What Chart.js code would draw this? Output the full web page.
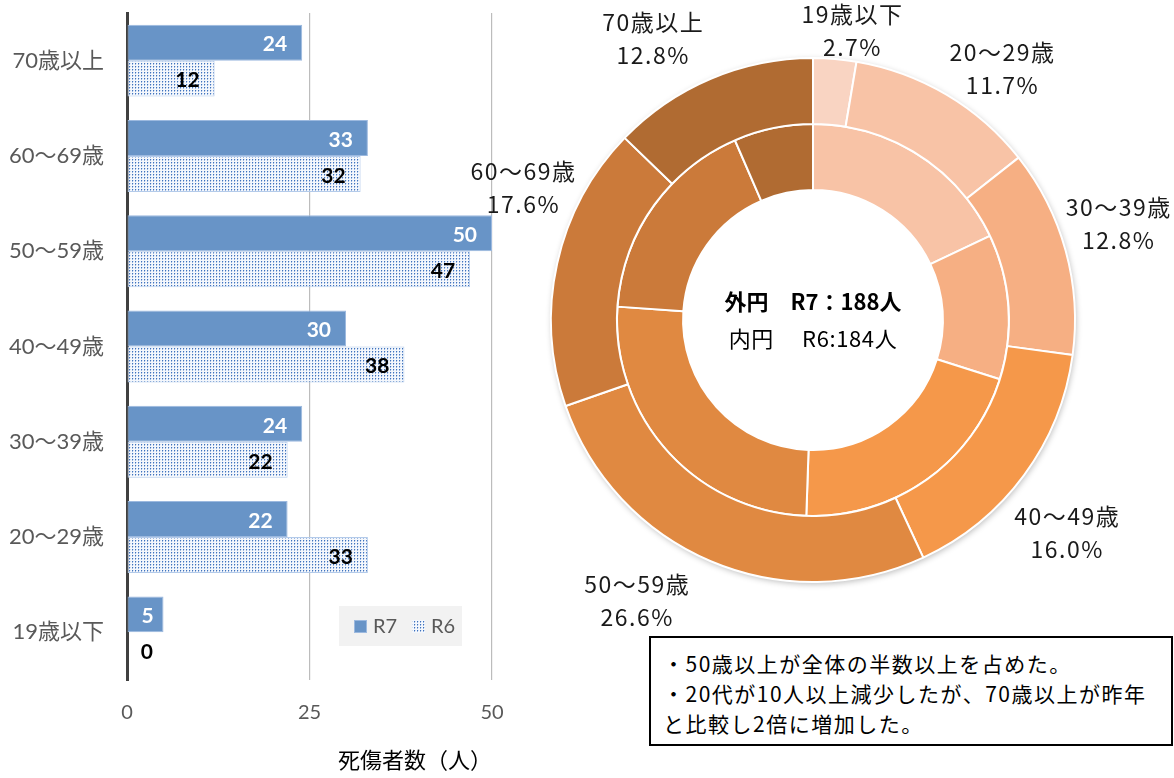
<!DOCTYPE html>
<html><head><meta charset="utf-8">
<script src="https://cdn.jsdelivr.net/npm/chart.js@4"></script>
<style>
html,body{margin:0;padding:0;background:#fff;width:1174px;height:778px;overflow:hidden;}
#barWrap{position:absolute;left:0;top:0;width:540px;height:778px;}
#pieWrap{position:absolute;left:0;top:0;width:1174px;height:778px;}
#note{position:absolute;left:649px;top:636px;width:524px;height:110px;box-sizing:border-box;border:2px solid #000;font-family:'Noto Sans CJK JP';font-size:21px;letter-spacing:1.5px;line-height:30px;padding:10px 0 0 12px;color:#000;background:#fff;}
</style></head>
<body>
<div id="barWrap"><canvas id="bar"></canvas></div>
<div id="pieWrap"><canvas id="pie"></canvas></div>
<div id="note">・50歳以上が全体の半数以上を占めた。<br>・20代が10人以上減少したが、70歳以上が昨年<br>と比較し2倍に増加した。</div>
<script>
// ---- data ----
const ageGroups = ['19歳以下','20～29歳','30～39歳','40～49歳','50～59歳','60～69歳','70歳以上'];
const r7Values = [5,22,24,30,50,33,24];
const r6Values = [0,33,22,38,47,32,12];
const seriesNames = ['R7','R6'];
const xTicks = [0,25,50];
const xAxisTitle = '死傷者数（人）';
const outerRingName = '外円';
const innerRingName = '内円';

// ---- styles ----
const segmentColors = ['#F9D4C2','#F8C3A6','#F6AF83','#F5984A','#E08941','#CB7A3A','#B06B32'];
const r7Color = '#6894C7';
const CJK = "'Noto Sans CJK JP'";
const LAT = "Lato, 'Noto Sans CJK JP'";
// label nudges (px) for donut labels relative to arc mid-angle anchor
const labelNudge = [[13,26],[28,21],[0,-13],[-1,24],[-52,-12],[20,-64],[-36,10]];

function makeDots(){
  const c=document.createElement('canvas'); c.width=3; c.height=3;
  const g=c.getContext('2d');
  g.fillStyle='#f4f7fc'; g.fillRect(0,0,3,3);
  g.fillStyle='#3f72bd'; g.fillRect(0,0,1,1);
  g.fillStyle='#9db8e0'; g.fillRect(0,1,1,1);
  g.fillStyle='#d3e0f2'; g.fillRect(1,0,1,1);
  return g.createPattern(c,'repeat');
}
const dots = makeDots();

Chart.defaults.animation = false;

// ---- bar chart ----
const barLabels = {
  id:'barLabels',
  afterDatasetsDraw(chart){
    const ctx=chart.ctx;
    ctx.save();
    ctx.font='bold 21px Lato';
    ctx.textAlign='right'; ctx.textBaseline='middle';
    chart.data.datasets.forEach((ds,di)=>{
      const meta=chart.getDatasetMeta(di);
      meta.data.forEach((bar,i)=>{
        const x=Math.max(bar.x-15, bar.base+26);
        ctx.fillStyle = di===0 ? '#ffffff' : '#000000';
        ctx.fillText(String(ds.data[i]), x, bar.y+2);
      });
    });
    ctx.restore();
  },
  afterDraw(chart){
    // legend
    const ctx=chart.ctx;
    ctx.save();
    ctx.fillStyle='#f2f2f2';
    ctx.fillRect(339,606,123,40);
    ctx.fillStyle=r7Color; ctx.fillRect(354,620,13,13);
    ctx.strokeStyle='#9cb9df'; ctx.lineWidth=1; ctx.strokeRect(354.5,620.5,12,12);
    ctx.fillStyle=dots; ctx.fillRect(412,620,13,13);
    ctx.font='20px Lato'; ctx.fillStyle='#595959'; ctx.textBaseline='middle'; ctx.textAlign='left';
    ctx.fillText(seriesNames[0],373,627);
    ctx.fillText(seriesNames[1],431,627);
    ctx.restore();
  }
};

new Chart(document.getElementById('bar'),{
  type:'bar',
  data:{
    labels: ageGroups.slice().reverse(),
    datasets:[
      {label:seriesNames[0], data:r7Values.slice().reverse(), backgroundColor:r7Color, borderColor:'#9cb9df', borderWidth:1, borderSkipped:false},
      {label:seriesNames[1], data:r6Values.slice().reverse(), backgroundColor:dots, borderColor:'#b4cbea', borderWidth:1, borderSkipped:false}
    ]
  },
  options:{
    indexAxis:'y',
    responsive:true, maintainAspectRatio:false,
    events:[],
    layout:{padding:{left:0,right:48,top:13,bottom:0}},
    datasets:{bar:{categoryPercentage:0.755, barPercentage:1.0}},
    plugins:{legend:{display:false}, tooltip:{enabled:false}},
    scales:{
      x:{
        min:0, max:50,
        afterBuildTicks:s=>{ s.ticks = xTicks.map(v=>({value:v})); },
        afterFit:s=>{ s.height=98; },
        grid:{drawTicks:false, color:c=> (c.tick && c.tick.value===0) ? 'rgba(0,0,0,0)' : '#bcbcbc', lineWidth:1.2},
        border:{display:false},
        ticks:{padding:21, color:'#595959', font:{family:'Lato', size:20}},
        title:{display:true, text:xAxisTitle, align:'end', color:'#000', font:{family:CJK, size:22}, padding:{top:4,bottom:5}}
      },
      y:{
        afterFit:s=>{ s.width=127; s.paddingTop=0; s.paddingBottom=0; },
        grid:{display:false, drawTicks:false},
        border:{display:true, color:'#404040', width:3},
        ticks:{padding:23, color:'#595959', font:{family:LAT, size:22}}
      }
    }
  },
  plugins:[barLabels]
});

// ---- doughnut ----
const sum = a => a.reduce((s,v)=>s+v,0);
const donutDeco = {
  id:'donutDeco',
  beforeDatasetsDraw(chart){
    const arc=chart.getDatasetMeta(0).data[0];
    const ctx=chart.ctx;
    ctx.save();
    ctx.shadowColor='rgba(0,0,0,0.28)'; ctx.shadowBlur=6; ctx.shadowOffsetX=1; ctx.shadowOffsetY=2;
    ctx.fillStyle='#ffffff';
    ctx.beginPath(); ctx.arc(arc.x,arc.y,arc.outerRadius,0,Math.PI*2); ctx.fill();
    ctx.restore();
  },
  afterDraw(chart){
    const ctx=chart.ctx;
    const meta=chart.getDatasetMeta(0);
    const total=sum(r7Values);
    ctx.save();
    ctx.fillStyle='#1a1a1a'; ctx.textAlign='center'; ctx.textBaseline='middle';
    ctx.font="23px "+CJK;
    ctx.letterSpacing='1.5px';
    meta.data.forEach((arc,i)=>{
      const mid=(arc.startAngle+arc.endAngle)/2;
      const r=arc.outerRadius+55;
      const x=arc.x+Math.cos(mid)*r+labelNudge[i][0];
      const y=arc.y+Math.sin(mid)*r+labelNudge[i][1];
      ctx.fillText(ageGroups[i], x, y-16);
      ctx.fillText((r7Values[i]/total*100).toFixed(1)+'%', x, y+17);
    });
    ctx.letterSpacing='0px';
    const a0=meta.data[0];
    ctx.fillStyle='#000';
    ctx.font="bold 22px "+CJK;
    ctx.fillText(outerRingName+'　'+seriesNames[0]+'：'+sum(r7Values)+'人', a0.x, a0.y-18);
    ctx.font="22px "+CJK;
    ctx.letterSpacing='0.6px';
    ctx.fillText(innerRingName+'　 '+seriesNames[1]+':'+sum(r6Values)+'人', a0.x, a0.y+19);
    ctx.restore();
  }
};

new Chart(document.getElementById('pie'),{
  type:'doughnut',
  data:{
    labels: ageGroups,
    datasets:[
      {label:seriesNames[0], data:r7Values, backgroundColor:segmentColors, borderColor:'#ffffff', borderWidth:2, hoverOffset:0, offset:0},
      {label:seriesNames[1], data:r6Values, backgroundColor:segmentColors, borderColor:'#ffffff', borderWidth:2, hoverOffset:0, offset:0}
    ]
  },
  options:{
    responsive:true, maintainAspectRatio:false,
    events:[],
    cutout:'49.6%',
    layout:{padding:{left:550,right:98,top:57,bottom:195}},
    plugins:{legend:{display:false}, tooltip:{enabled:false}}
  },
  plugins:[donutDeco]
});
</script>
</body></html>
